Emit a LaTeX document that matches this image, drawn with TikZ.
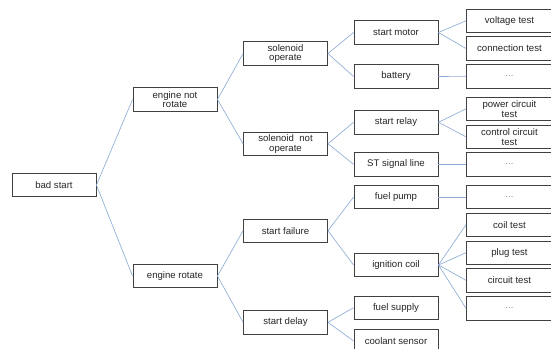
\documentclass[tikz,border=0pt]{standalone}
\usepackage{fontspec}
\setmainfont{Liberation Sans}
\begin{document}
\begin{tikzpicture}[x=1pt,y=-1pt,
  box/.style={draw=black!75, line width=0.9pt, fill=white, minimum width=84pt, minimum height=23.4pt,
    inner sep=0pt, align=center, font=\fontsize{9.6}{9.8}\selectfont, text=black!85},
  leaf/.style={box, minimum width=86pt, anchor=west},
  dots/.style={text=black!45},
  link/.style={line width=0.65pt, color={rgb,255:red,142;green,172;blue,214}}]
\useasboundingbox (0,0) rectangle (551,348);
\clip (0,0) rectangle (551,348);
% column 0
\node[box] (bs) at (54,185) {bad start};
% column 1
\node[box] (enr) at (175,99.5) {engine not\\rotate};
\node[box] (er) at (175,276) {engine rotate};
% column 2
\node[box] (so) at (285.5,53.5) {solenoid\\operate};
\node[box] (sno) at (285.5,143.7) {solenoid~ not\\operate};
\node[box] (sf) at (285.5,230.7) {start failure};
\node[box] (sd) at (285.5,322.3) {start delay};
% column 3
\node[box] (sm) at (396,32.5) {start motor};
\node[box] (bat) at (396,76.5) {battery};
\node[box] (sr) at (396,122.3) {start relay};
\node[box] (st) at (396,164.3) {ST signal line};
\node[box] (fp) at (396,197) {fuel pump};
\node[box] (ic) at (396,265) {ignition coil};
\node[box] (fs) at (396,307.7) {fuel supply};
\node[box] (cs) at (396,341) {coolant sensor};
% column 4
\node[leaf] (vt) at (466,20.8) {voltage test};
\node[leaf] (ct) at (466,48.5) {connection test};
\node[leaf,dots] (d1) at (466,76.3) {...};
\node[leaf] (pct) at (466,108.8) {power circuit\\test};
\node[leaf] (cct) at (466,136.8) {control circuit\\test};
\node[leaf,dots] (d2) at (466,164.3) {...};
\node[leaf,dots] (d3) at (466,197) {...};
\node[leaf] (coil) at (466,224.7) {coil test};
\node[leaf] (plug) at (466,252.7) {plug test};
\node[leaf] (circ) at (466,280.3) {circuit test};
\node[leaf,dots] (d4) at (466,308.3) {...};
% connectors
\foreach \a/\b in {bs/enr,bs/er,enr/so,enr/sno,er/sf,er/sd,
  so/sm,so/bat,sno/sr,sno/st,sf/fp,sf/ic,sd/fs,sd/cs,
  sm/vt,sm/ct,bat/d1,sr/pct,sr/cct,st/d2,fp/d3,ic/coil,ic/plug,ic/circ,ic/d4}
  \draw[link] (\a.east) -- (\b.west);
\end{tikzpicture}
\end{document}
